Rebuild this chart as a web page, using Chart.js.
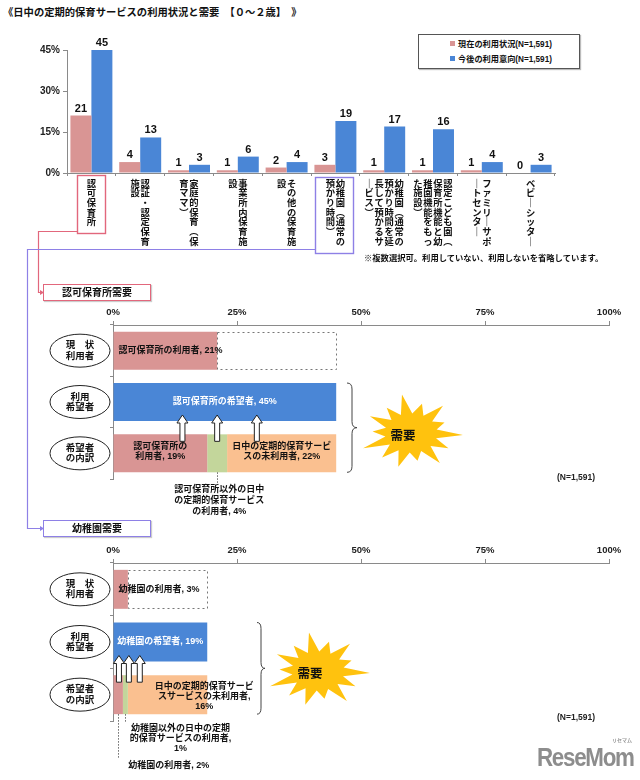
<!DOCTYPE html>
<html lang="ja">
<head>
<meta charset="utf-8">
<title>日中の定期的保育サービスの利用状況と需要</title>
<script src="https://cdn.jsdelivr.net/npm/chart.js@4.4.1/dist/chart.umd.min.js"></script>
<style>
  html, body { margin: 0; padding: 0; background: #fff; }
  body {
    width: 640px; height: 780px; position: relative; overflow: hidden;
    font-family: 'Liberation Sans', 'Noto Sans CJK JP', sans-serif;
    font-weight: bold; color: #111;
  }
  canvas { position: absolute; left: 0; }
  .txt { position: absolute; white-space: nowrap; line-height: 1; }
  #title { left: 3px; top: 8px; font-size: 10.3px; }
  #legend {
    position: absolute; left: 418px; top: 34px; width: 160px; height: 33px;
    border: 1px solid #555; box-shadow: 1px 1px 1px #bbb; background: #fff;
  }
  #legend .item { position: absolute; left: 31px; font-size: 8.2px; line-height: 8px; white-space: nowrap; }
  #legend .sw { display: inline-block; width: 5px; height: 5px; margin-right: 3px; vertical-align: 1px; }
  #note { left: 364px; top: 254px; font-size: 8.3px; }
  .secbox {
    position: absolute; left: 43px; width: 106px; height: 15px; line-height: 15px;
    font-size: 10px; text-align: center; background: #fff; box-shadow: 1px 1px 1px #ccc;
  }
  #sec1 { top: 284px; border: 1.5px solid #E2677C; }
  #sec2 { top: 520px; border: 1.5px solid #8E80E6; }
  .nlabel { left: 557px; font-size: 8.5px; color: #222; }
  #logo { left: 537px; top: 744px; font-size: 26px; color: #8d8d8d; letter-spacing: -1.5px; transform: scaleX(0.86); transform-origin: left top; }
  #logoKana { left: 612px; top: 738px; font-size: 5px; color: #999; }
  svg { position: absolute; left: 0; top: 0; pointer-events: none; }
</style>
</head>
<body>

<div id="title" class="txt">《日中の定期的保育サービスの利用状況と需要　【０～２歳】　》</div>

<div id="legend">
  <div class="item" style="top:6px"><span class="sw" style="background:#D99594"></span>現在の利用状況(N=1,591)</div>
  <div class="item" style="top:21px"><span class="sw" style="background:#4A86D6"></span>今後の利用意向(N=1,591)</div>
</div>

<canvas id="usageChart" width="640" height="265" style="top:0"></canvas>
<canvas id="hoikuChart" width="640" height="238" style="top:280px"></canvas>
<canvas id="kinderChart" width="640" height="264" style="top:516px"></canvas>

<div id="note" class="txt">※複数選択可。利用していない、利用しないを省略しています。</div>
<div id="sec1" class="secbox">認可保育所需要</div>
<div id="sec2" class="secbox">幼稚園需要</div>
<div class="txt nlabel" style="top:473px">(N=1,591)</div>
<div class="txt nlabel" style="top:713px">(N=1,591)</div>
<div id="logoKana" class="txt">リセマム</div>
<div id="logo" class="txt">ReseMom</div>

<svg width="640" height="780">
  <!-- boxes round two category labels and the connectors down to the two sections -->
  <rect x="77.5" y="175.5" width="28" height="58" fill="none" stroke="#E2677C" stroke-width="1.4"/>
  <rect x="315.5" y="177.5" width="38" height="76" fill="none" stroke="#8E80E6" stroke-width="1.4"/>
  <polyline points="77.5,231.5 38.5,231.5 38.5,292.5 41,292.5" fill="none" stroke="#E2677C" stroke-width="1.2"/>
  <polygon points="44,292.5 40,290 40,295" fill="#E2677C"/>
  <polyline points="315.5,249.5 27.5,249.5 27.5,528.5 41,528.5" fill="none" stroke="#8E80E6" stroke-width="1.2"/>
  <polygon points="44,528.5 40,526 40,531" fill="#8E80E6"/>
</svg>

<script>
// Top chart data
const categories = [
    '認可保育所',
    '認証・認定保育施設',
    '家庭的保育（保育ママ）',
    '事業所内保育施設',
    'その他の保育施設',
    '幼稚園（通常の預かり時間）',
    '幼稚園（通常の預かり時間を延長して預かるサービス）',
    '認定こども園（保育所機能と幼稚園機能をもった施設）',
    'ファミリーサポートセンター',
    'ベビーシッター'
];
const currentUse = [21, 4, 1, 1, 2, 3, 1, 1, 1, 0];
const futureUse = [45, 13, 3, 6, 4, 19, 17, 16, 4, 3];
const usageTicks = [0, 15, 30, 45];

// Demand charts data (rows: 現状利用者 / 利用希望者 / 希望者の内訳)
const demandRows = ['現状利用者', '利用希望者', '希望者の内訳'];
const rowCaptions = [['現　状', '利用者'], ['利用', '希望者'], ['希望者', 'の内訳']];
const demandTicks = [0, 25, 50, 75, 100];

const hoikuMain = [21, 45, 19];
const hoikuOther = [null, null, 4];
const hoikuNone = [null, null, 22];

const kinderMain = [3, 19, 2];
const kinderOther = [null, null, 1];
const kinderNone = [null, null, 16];

// Colours
const PINK = '#D99594';
const BLUE = '#4A86D6';
const GREEN = '#C3D69B';
const ORANGE = '#FAC090';
const STAR = '#FFC20E';
const AXIS = '#8a8a8a';
const FONT = "'Liberation Sans', 'Noto Sans CJK JP', sans-serif";

// Vertical writing forms
const VERTICAL_FORMS = { '（': '︵', '）': '︶', 'ー': '｜' };

const barValueLabels = {
    id: 'barValueLabels',
    afterDatasetsDraw(chart) {
        const ctx = chart.ctx;
        ctx.save();
        ctx.font = 'bold 11px ' + FONT;
        ctx.fillStyle = '#111';
        ctx.textAlign = 'center';
        chart.data.datasets.forEach((ds, i) => {
            chart.getDatasetMeta(i).data.forEach((bar, j) => {
                ctx.fillText(ds.data[j], bar.x, bar.y - 4);
            });
        });
        ctx.restore();
    }
};

const verticalCategoryLabels = {
    id: 'verticalCategoryLabels',
    afterDraw(chart) {
        const ctx = chart.ctx;
        const xs = chart.scales.x;
        ctx.save();
        ctx.font = 'bold 9.3px ' + FONT;
        ctx.fillStyle = '#111';
        ctx.textAlign = 'center';
        ctx.textBaseline = 'middle';
        chart.data.labels.forEach((name, i) => {
            const cols = [];
            for (let k = 0; k < name.length; k += 7) cols.push(name.slice(k, k + 7));
            const cx = xs.getPixelForValue(i);
            cols.forEach((col, c) => {
                const x = cx + ((cols.length - 1) / 2 - c) * 10;
                [...col].forEach((ch, r) => {
                    ctx.fillText(VERTICAL_FORMS[ch] || ch, x, xs.top + 11 + r * 9.7);
                });
            });
        });
        ctx.restore();
    }
};

new Chart(document.getElementById('usageChart'), {
    type: 'bar',
    data: {
        labels: categories,
        datasets: [
            { label: '現在の利用状況(N=1,591)', data: currentUse, backgroundColor: PINK, categoryPercentage: 0.86, barPercentage: 1 },
            { label: '今後の利用意向(N=1,591)', data: futureUse, backgroundColor: BLUE, categoryPercentage: 0.86, barPercentage: 1 }
        ]
    },
    options: {
        responsive: false,
        animation: false,
        layout: { padding: { top: 50, right: 85, left: 0, bottom: 0 } },
        plugins: { legend: { display: false }, tooltip: { enabled: false } },
        scales: {
            x: {
                grid: { drawOnChartArea: false, tickLength: 3, color: AXIS, offset: true },
                border: { color: AXIS },
                ticks: { display: false },
                afterFit: s => { s.height = 92; }
            },
            y: {
                min: 0,
                max: 45,
                afterBuildTicks: s => { s.ticks = usageTicks.map(v => ({ value: v })); },
                ticks: { callback: v => v + '%', font: { family: FONT, size: 10, weight: 'bold' }, color: '#222', padding: 3 },
                grid: { drawOnChartArea: false, tickLength: 4, color: AXIS },
                border: { color: AXIS },
                afterFit: s => { s.width = 67; }
            }
        }
    },
    plugins: [barValueLabels, verticalCategoryLabels]
});

// helpers for the demand charts
function drawLines(ctx, lines, x, y, gap) {
    lines.forEach((t, k) => ctx.fillText(t, x, y + k * gap));
}

function drawArrow(ctx, x, top, bottom) {
    ctx.beginPath();
    ctx.moveTo(x, top);
    ctx.lineTo(x + 5.5, top + 8);
    ctx.lineTo(x + 2.5, top + 8);
    ctx.lineTo(x + 2.5, bottom);
    ctx.lineTo(x - 2.5, bottom);
    ctx.lineTo(x - 2.5, top + 8);
    ctx.lineTo(x - 5.5, top + 8);
    ctx.closePath();
    ctx.fillStyle = '#fff';
    ctx.fill();
    ctx.strokeStyle = '#222';
    ctx.lineWidth = 1;
    ctx.stroke();
}

function drawBrace(ctx, x, top, bottom, w) {
    const mid = (top + bottom) / 2, r = 6, m = x + w / 2;
    ctx.beginPath();
    ctx.moveTo(x, top);
    ctx.quadraticCurveTo(m, top, m, top + r);
    ctx.lineTo(m, mid - r);
    ctx.quadraticCurveTo(m, mid, x + w, mid);
    ctx.quadraticCurveTo(m, mid, m, mid + r);
    ctx.lineTo(m, bottom - r);
    ctx.quadraticCurveTo(m, bottom, x, bottom);
    ctx.strokeStyle = '#444';
    ctx.lineWidth = 1;
    ctx.stroke();
}

const STAR_SPIKES = [1.0, 0.78, 0.93, 0.7, 1.0, 0.82, 0.95, 0.72, 0.9, 0.84, 1.0, 0.74, 0.9, 0.8];

function drawStar(ctx, cx, cy, rx, ry) {
    const n = STAR_SPIKES.length;
    ctx.beginPath();
    for (let i = 0; i < n * 2; i++) {
        const a = (-100 + i * 180 / n) * Math.PI / 180;
        const f = i % 2 === 0 ? STAR_SPIKES[i / 2] : 0.5;
        const px = cx + Math.cos(a) * rx * f, py = cy + Math.sin(a) * ry * f;
        if (i === 0) ctx.moveTo(px, py); else ctx.lineTo(px, py);
    }
    ctx.closePath();
    ctx.fillStyle = STAR;
    ctx.fill();
    ctx.font = 'bold 12.5px ' + FONT;
    ctx.fillStyle = '#111';
    ctx.textAlign = 'center';
    ctx.textBaseline = 'middle';
    ctx.fillText('需要', cx - 8, cy + 4);
}

const demandDecor = {
    id: 'demandDecor',
    afterDatasetsDraw(chart, args, opts) {
        const ctx = chart.ctx;
        const xs = chart.scales.x, ys = chart.scales.y;
        const bar = (d, r) => chart.getDatasetMeta(d).data[r];
        ctx.save();

        // dotted frame up to the wish level
        const b0 = bar(0, 0), b1 = bar(0, 1);
        ctx.setLineDash([2, 3]);
        ctx.strokeStyle = '#777';
        ctx.lineWidth = 1;
        ctx.strokeRect(Math.round(b0.x) + 0.5, Math.round(b0.y - b0.height / 2) + 0.5,
            Math.round(b1.x - b0.x), Math.round(b0.height) - 1);
        ctx.setLineDash([]);

        // row captions in ellipses
        ctx.font = 'bold 9.5px ' + FONT;
        ctx.textAlign = 'center';
        ctx.textBaseline = 'middle';
        rowCaptions.forEach((cap, r) => {
            const cy = ys.getPixelForValue(r);
            ctx.beginPath();
            ctx.ellipse(80, cy, 30, 16.5, 0, 0, Math.PI * 2);
            ctx.fillStyle = '#fff';
            ctx.fill();
            ctx.strokeStyle = '#222';
            ctx.stroke();
            ctx.fillStyle = '#111';
            drawLines(ctx, cap, 80, cy - 5, 10.5);
        });

        // texts on and under the bars
        ctx.font = 'bold 9px ' + FONT;
        opts.texts.forEach(t => {
            const el = bar(t.ds, t.row);
            const bottom = el.y + el.height / 2;
            ctx.fillStyle = t.color || '#111';
            if (t.where === 'start') {
                ctx.textAlign = 'left';
                drawLines(ctx, t.lines, el.base + 5, el.y, 10);
            } else if (t.where === 'center') {
                ctx.textAlign = 'center';
                drawLines(ctx, t.lines, (el.x + el.base) / 2, el.y - (t.lines.length - 1) * 5 + (t.dy || 0), 10);
            } else if (t.where === 'end') {
                ctx.textAlign = 'center';
                drawLines(ctx, t.lines, el.x - 3, el.y - (t.lines.length - 1) * 5 + 2, 10);
            } else {
                // leader line under the bar and text below
                const lx = (el.x + el.base) / 2;
                ctx.setLineDash([1.5, 1.5]);
                ctx.strokeStyle = '#666';
                ctx.beginPath();
                ctx.moveTo(Math.round(lx) + 0.5, bottom);
                ctx.lineTo(Math.round(lx) + 0.5, bottom + t.lead);
                ctx.stroke();
                ctx.setLineDash([]);
                ctx.textAlign = t.align || 'center';
                drawLines(ctx, t.lines, lx + t.dx, bottom + t.dy, t.gap || 10);
            }
        });

        // arrows from the breakdown up to the wish bar
        const wish = bar(0, 1), split = bar(0, 2);
        opts.arrows.forEach(v => {
            drawArrow(ctx, xs.getPixelForValue(v), wish.y + wish.height / 2 - 6, split.y - split.height / 2 + 7);
        });

        // brace and star
        drawBrace(ctx, opts.braceX, wish.y - wish.height / 2, split.y + split.height / 2, opts.braceW);
        drawStar(ctx, opts.star[0], opts.star[1], 52, 39);
        ctx.restore();
    }
};

function makeDemandChart(id, main, other, none, axisHeight, bottomPad, decor) {
    return new Chart(document.getElementById(id), {
        type: 'bar',
        data: {
            labels: demandRows,
            datasets: [
                { data: main, backgroundColor: [PINK, BLUE, PINK] },
                { data: other, backgroundColor: GREEN },
                { data: none, backgroundColor: ORANGE }
            ]
        },
        options: {
            indexAxis: 'y',
            responsive: false,
            animation: false,
            datasets: { bar: { categoryPercentage: 1, barPercentage: 0.74 } },
            layout: { padding: { top: 0, right: 31, left: 0, bottom: bottomPad } },
            plugins: { legend: { display: false }, tooltip: { enabled: false }, demandDecor: decor },
            scales: {
                x: {
                    position: 'top',
                    stacked: true,
                    min: 0,
                    max: 100,
                    afterBuildTicks: s => { s.ticks = demandTicks.map(v => ({ value: v })); },
                    ticks: { callback: v => v + '%', font: { family: FONT, size: 9.5, weight: 'bold' }, color: '#222', padding: 3, maxRotation: 0 },
                    grid: { drawOnChartArea: false, tickLength: 4, color: AXIS },
                    border: { color: AXIS },
                    afterFit: s => { s.height = axisHeight; }
                },
                y: {
                    stacked: true,
                    ticks: { display: false },
                    grid: { drawOnChartArea: false, tickLength: 3, color: AXIS, offset: true },
                    border: { color: AXIS },
                    afterFit: s => { s.width = 113; }
                }
            }
        },
        plugins: [demandDecor]
    });
}

makeDemandChart('hoikuChart', hoikuMain, hoikuOther, hoikuNone, 45, 39, {
    texts: [
        { ds: 0, row: 0, where: 'start', lines: ['認可保育所の利用者, ' + hoikuMain[0] + '%'] },
        { ds: 0, row: 1, where: 'center', color: '#fff', lines: ['認可保育所の希望者, ' + hoikuMain[1] + '%'] },
        { ds: 0, row: 2, where: 'center', dy: -2, lines: ['認可保育所の', '利用者, ' + hoikuMain[2] + '%'] },
        { ds: 2, row: 2, where: 'center', dy: -2, lines: ['日中の定期的保育サービ', 'スの未利用者, ' + hoikuNone[2] + '%'] },
        { ds: 1, row: 2, where: 'below', lead: 11, dx: 2, dy: 17, gap: 11,
          lines: ['認可保育所以外の日中', 'の定期的保育サービス', 'の利用者, ' + hoikuOther[2] + '%'] }
    ],
    arrows: [14, 21, 29],
    braceX: 347,
    braceW: 10,
    star: [411, 153]
});

makeDemandChart('kinderChart', kinderMain, kinderOther, kinderNone, 47, 59, {
    texts: [
        { ds: 0, row: 0, where: 'start', lines: ['幼稚園の利用者, ' + kinderMain[0] + '%'] },
        { ds: 0, row: 1, where: 'center', color: '#fff', lines: ['幼稚園の希望者, ' + kinderMain[1] + '%'] },
        { ds: 2, row: 2, where: 'end', lines: ['日中の定期的保育サービ', 'スサービスの未利用者,', kinderNone[2] + '%'] },
        { ds: 1, row: 2, where: 'below', lead: 9, dx: 55, dy: 14,
          lines: ['幼稚園以外の日中の定期', '的保育サービスの利用者,', kinderOther[2] + '%'] },
        { ds: 0, row: 2, where: 'below', lead: 44, dx: 10, dy: 51, align: 'left',
          lines: ['幼稚園の利用者, ' + kinderMain[2] + '%'] }
    ],
    arrows: [1.2, 3.2, 5.4],
    braceX: 257,
    braceW: 8,
    star: [318, 155]
});
</script>
</body>
</html>
